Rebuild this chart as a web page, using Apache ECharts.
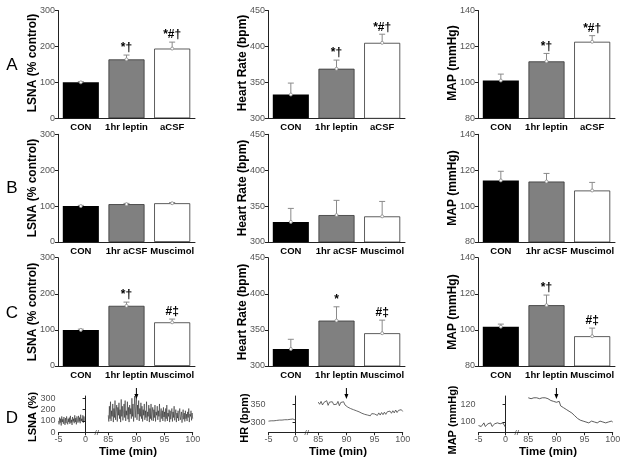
<!DOCTYPE html>
<html><head><meta charset="utf-8">
<script src="https://cdn.jsdelivr.net/npm/echarts@6/dist/echarts.min.js"></script>
<style>html,body{margin:0;padding:0;background:#fff}#c{width:627px;height:466px}</style>
</head><body><div id="c"></div>
<script>
// ---------- data ----------
const catsA = ['CON','1hr leptin','aCSF'];
const catsB = ['CON','1hr aCSF','Muscimol'];
const catsC = ['CON','1hr leptin','Muscimol'];

const lsnaA = [100,164,194],     lsnaAErr = [102,176,212],   lsnaASig = ['','*†','*#†'];
const hrA   = [333,369,405],     hrAErr   = [349,381,417],   hrASig   = ['','*†','*#†'];
const mapA  = [101,111.7,122.6], mapAErr  = [104.6,116.1,126], mapASig = ['','*†','*#†'];

const lsnaB = [100,105.5,108],   lsnaBErr = [102,107.5,110];
const hrB   = [328,337.5,335.7], hrBErr   = [346.8,358,356.5];
const mapB  = [114.3,113.7,108.7], mapBErr = [119.4,118.2,113.2];

const lsnaC = [100,166.7,121],   lsnaCErr = [102,177,130],   lsnaCSig = ['','*†','#‡'];
const hrC   = [323.6,362.9,345.4], hrCErr = [337,382,363.5], hrCSig   = ['','*','#‡'];
const mapC  = [101.8,113.7,96.5], mapCErr = [103.2,119.3,101], mapCSig = ['','*†','#‡'];

// panel D traces (left: -5..0 min, right: 85..100 min)
const lsnaTraceLeft = [100,70,130,85,120,60,140,90,115,75,135,95,65,125,80,140,100,70,120,90,
  130,75,145,85,110,65,135,95,120,80,150,90,125,70,140,105,85,145,95,130,
  80,155,100,120,90,150,85,140,110,95,120];
const lsnaTraceRight = [
  150,95,230,120,270,100,190,140,250,90,
  210,130,280,110,180,240,95,220,150,260,
  120,200,90,290,140,230,105,170,250,130,
  280,100,190,150,270,115,220,90,240,160,
  210,120,300,140,250,95,180,320,130,230,
  330,110,240,160,280,100,210,140,260,120,
  230,95,200,150,250,110,190,130,270,100,
  180,140,240,90,210,120,250,105,170,220,
  100,200,130,240,95,180,150,230,110,190,
  140,250,90,170,210,120,190,100,220,135,
  180,95,210,120,240,100,170,140,200,90,
  190,115,160,210,95,180,130,230,105,150,
  200,90,170,125,190,100,160,210,110,140,
  180,85,150,200,115,170,95,190,120,160,
  100,180,130,210,90,160,140,190,105,170,
  120];
const hrTraceLeft = [303,304,304,305,306,306,307,307,308,309,306];
const hrTraceRight = [356,350,358,348,355,352,360,347,356,351,357,349,354,350,358,346,355,352,357,348,353,
  342,347,338,343,335,340,332,336,329,333,325,330,322,327,320,325,318,324,320,323,
  325,319,326,320,327,321,328,322,329,324,331,325,332,326,334,327,333,328,335,330];
const mapTraceLeft = [96,98,95,97,99,95,97,98,96,99,95,97,98,96,99,97,98,96,99,97,94];
const mapTraceRight = [127,128,126,128,127,129,127,128,126,128,127,126,127,125,126,125,124,125,123,124,122,
  120,123,118,120,116,118,114,115,112,113,110,109,107,106,104,103,102,101,101,100,
  100,101,99,100,101,99,100,102,99,100,101,99,100,102,99,101,100,99,101,100];

const dLeftTicks = [-5,0], dRightTicks = [85,90,95,100];
const lsnaDTicks = [0,100,200,300], hrDTicks = [300,350], mapDTicks = [100,120];

// ---------- layout ----------
const FONT = '"Liberation Sans", Arial, sans-serif';
const COLS = [0,210,420];
const ROW_TOP = [10.5,134.3,257.7];
const ROW_H = [107.8,107.7,108.3];
const GL = 58, GW = 137;
const FILLS = ['#000000','#808080','#ffffff'];
const AX = '#222';

const panels = [
  {r:0,c:0,cats:catsA,v:lsnaA,e:lsnaAErr,s:lsnaASig,min:0,max:300,int:100},
  {r:0,c:1,cats:catsA,v:hrA,e:hrAErr,s:hrASig,min:300,max:450,int:50},
  {r:0,c:2,cats:catsA,v:mapA,e:mapAErr,s:mapASig,min:80,max:140,int:20},
  {r:1,c:0,cats:catsB,v:lsnaB,e:lsnaBErr,s:null,min:0,max:300,int:100},
  {r:1,c:1,cats:catsB,v:hrB,e:hrBErr,s:null,min:300,max:450,int:50},
  {r:1,c:2,cats:catsB,v:mapB,e:mapBErr,s:null,min:80,max:140,int:20},
  {r:2,c:0,cats:catsC,v:lsnaC,e:lsnaCErr,s:lsnaCSig,min:0,max:300,int:100},
  {r:2,c:1,cats:catsC,v:hrC,e:hrCErr,s:hrCSig,min:300,max:450,int:50},
  {r:2,c:2,cats:catsC,v:mapC,e:mapCErr,s:mapCSig,min:80,max:140,int:20}
];

function makeErr(sig){
  return function(params, api){
    const p0 = api.coord([api.value(0), api.value(1)]);
    const p1 = api.coord([api.value(0), api.value(2)]);
    const x = p0[0];
    const ch = [
      {type:'line', shape:{x1:x,y1:p0[1],x2:x,y2:p1[1]}, style:{stroke:'#8a8a8a',lineWidth:1}},
      {type:'line', shape:{x1:x-3,y1:p1[1],x2:x+3,y2:p1[1]}, style:{stroke:'#8a8a8a',lineWidth:1}},
      {type:'circle', shape:{cx:x,cy:p0[1],r:1.5}, style:{stroke:'#8a8a8a',fill:'#fff',lineWidth:0.8}}
    ];
    const t = sig ? sig[params.dataIndex] : '';
    if (t) ch.push({type:'text', x:x, y:p1[1]-1, style:{text:t, align:'center', verticalAlign:'bottom', textAlign:'center', textVerticalAlign:'bottom', font:'bold 12px ' + FONT, fill:'#000'}});
    return {type:'group', children: ch};
  };
}

const grid=[], xAxis=[], yAxis=[], series=[];
panels.forEach((p,i)=>{
  grid.push({left:COLS[p.c]+GL, top:ROW_TOP[p.r], width:GW, height:ROW_H[p.r]});
  xAxis.push({type:'category', gridIndex:i, data:p.cats,
    axisLine:{lineStyle:{color:AX,width:1}},
    axisTick:{alignWithLabel:true,length:3,lineStyle:{color:AX}},
    axisLabel:{interval:0,margin:4,fontSize:9.5,fontWeight:'bold',color:'#000',fontFamily:FONT}});
  yAxis.push({type:'value', gridIndex:i, min:p.min, max:p.max, interval:p.int,
    axisLine:{show:true,lineStyle:{color:AX,width:1}},
    axisTick:{show:true,length:3,lineStyle:{color:AX}},
    splitLine:{show:false},
    axisLabel:{margin:3,fontSize:9,color:'#555',fontFamily:FONT}});
  series.push({type:'bar', xAxisIndex:i, yAxisIndex:i, barWidth:'79%',
    data:p.v.map((v,k)=>({value:v,itemStyle:{color:FILLS[k],borderColor:'#333',borderWidth:k===0?0:0.8}}))});
  series.push({type:'custom', xAxisIndex:i, yAxisIndex:i, z:5,
    data:p.v.map((v,k)=>[k,v,p.e[k]]), renderItem:makeErr(p.s)});
});

const D = [
  {c:0, L:lsnaTraceLeft, R:lsnaTraceRight, ls:0.1, rs:0.1, min:0, max:320, ticks:lsnaDTicks, color:'#111', lw:0.5},
  {c:1, L:hrTraceLeft, R:hrTraceRight, ls:0.5, rs:0.25, min:272, max:373, ticks:hrDTicks, color:'#444', lw:0.8},
  {c:2, L:mapTraceLeft, R:mapTraceRight, ls:0.25, rs:0.25, min:88.5, max:129, ticks:mapDTicks, color:'#333', lw:0.8}
];
const DTOP = 396, DH = 36.3;
D.forEach(d=>{
  const o = COLS[d.c];
  let gi = grid.length;
  grid.push({left:o+58.5, top:DTOP, width:37.9, height:DH});
  xAxis.push({type:'value', gridIndex:gi, min:-5, max:2,
    axisLine:{lineStyle:{color:AX}}, splitLine:{show:false},
    axisTick:{length:3,lineStyle:{color:AX},customValues:dLeftTicks},
    axisLabel:{margin:3,fontSize:9,color:'#555',fontFamily:FONT,customValues:dLeftTicks}});
  yAxis.push({type:'value', gridIndex:gi, min:d.min, max:d.max,
    axisLine:{show:true,lineStyle:{color:AX}}, splitLine:{show:false},
    axisTick:{show:true,length:3,lineStyle:{color:AX},customValues:d.ticks},
    axisLabel:{margin:3,fontSize:9,color:'#555',fontFamily:FONT,customValues:d.ticks}});
  series.push({type:'line', xAxisIndex:gi, yAxisIndex:gi, showSymbol:false, symbol:'none',
    lineStyle:{color:d.color,width:d.lw}, data:d.L.map((v,i)=>[-5+i*d.ls, v])});
  gi = grid.length;
  grid.push({left:o+97, top:DTOP, width:95.7, height:DH});
  xAxis.push({type:'value', gridIndex:gi, min:83, max:100,
    axisLine:{lineStyle:{color:AX}}, splitLine:{show:false},
    axisTick:{length:3,lineStyle:{color:AX},customValues:dRightTicks},
    axisLabel:{margin:3,fontSize:9,color:'#555',fontFamily:FONT,customValues:dRightTicks}});
  yAxis.push({type:'value', gridIndex:gi, min:d.min, max:d.max, show:false});
  series.push({type:'line', xAxisIndex:gi, yAxisIndex:gi, showSymbol:false, symbol:'none',
    lineStyle:{color:d.color,width:d.lw}, data:d.R.map((v,i)=>[85+i*d.rs, v])});
});

// ---------- texts ----------
function vtext(x,y,t,size){
  return {type:'text', x:x, y:y, rotation:Math.PI/2,
    style:{text:t, x:0, y:0, align:'center', verticalAlign:'middle', textAlign:'center', textVerticalAlign:'middle',
      font:'bold '+size+'px '+FONT, fill:'#000'}};
}
function htext(x,y,t,font){
  return {type:'text', x:x, y:y,
    style:{text:t, x:0, y:0, align:'center', verticalAlign:'middle', textAlign:'center', textVerticalAlign:'middle', font:font, fill:'#000'}};
}
const yTitles = ['LSNA (% control)','Heart Rate (bpm)','MAP (mmHg)'];
const titleX = [33,243,453];
const rowMid = [63,188,312];
const graphic = [];
for (let r=0;r<3;r++) for (let c=0;c<3;c++) graphic.push(vtext(titleX[c], rowMid[r], yTitles[c], 12));
const dTitles = ['LSNA (%)','HR (bpm)','MAP (mmHg)'];
const dTitleX = [33,245,453], dTitleY = [417,418,420];
for (let c=0;c<3;c++){
  graphic.push(vtext(dTitleX[c], dTitleY[c], dTitles[c], 11));
  graphic.push(htext(COLS[c]+128, 452, 'Time (min)', 'bold 11.5px '+FONT));
  graphic.push({type:'text', x:COLS[c]+96.7, y:DTOP+DH, style:{text:'//', x:0, y:0, align:'center', verticalAlign:'middle', textAlign:'center', textVerticalAlign:'middle', font:'8px '+FONT, fill:'#333', backgroundColor:'#fff'}});
}
const letters = [['A',65],['B',188],['C',313],['D',418]];
letters.forEach(l=>graphic.push(htext(12, l[1], l[0], '17px '+FONT)));

const chart = echarts.init(document.getElementById('c'), null, {renderer:'canvas'});
chart.setOption({animation:false, backgroundColor:'#fff', grid, xAxis, yAxis, series, graphic});

D.forEach((d,k)=>{
  const xi = 9 + k*2 + 1;
  const px = chart.convertToPixel({xAxisIndex: xi}, 90);
  graphic.push({type:'line', shape:{x1:px,y1:388,x2:px,y2:395}, style:{stroke:'#000',lineWidth:1}});
  graphic.push({type:'polygon', shape:{points:[[px-2,394],[px+2,394],[px,399]]}, style:{fill:'#000'}});
});
chart.setOption({graphic});
</script>
</body></html>
